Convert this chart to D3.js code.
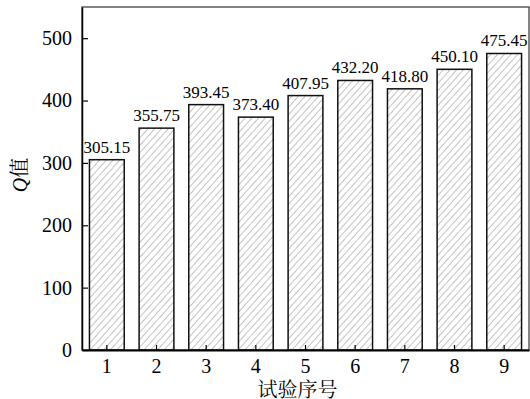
<!DOCTYPE html>
<html>
<head>
<meta charset="utf-8">
<script src="https://cdn.jsdelivr.net/npm/d3@7"></script>
<style>
  body { margin: 0; background: #fff; }
  svg { display: block; }
</style>
</head>
<body>
<div id="chart"></div>
<script>
const trials = ["1", "2", "3", "4", "5", "6", "7", "8", "9"];
const qValues = [305.15, 355.75, 393.45, 373.40, 407.95, 432.20, 418.80, 450.10, 475.45];
const yTicks = [0, 100, 200, 300, 400, 500];

const W = 530, H = 399;
const margin = { top: 7, right: 1, bottom: 49, left: 82 };
const width = W - margin.left - margin.right;
const height = H - margin.top - margin.bottom;

const svg = d3.select("#chart").append("svg")
  .attr("width", W)
  .attr("height", H);

// diagonal hatch fill for the bars
const pat = svg.append("defs").append("pattern")
  .attr("id", "hatch")
  .attr("patternUnits", "userSpaceOnUse")
  .attr("width", 5)
  .attr("height", 5)
  .attr("patternTransform", "rotate(42)");
pat.append("rect").attr("width", 5).attr("height", 5).attr("fill", "#fff");
pat.append("line")
  .attr("x1", 0).attr("y1", 0).attr("x2", 0).attr("y2", 5)
  .attr("stroke", "#7a7a7a")
  .attr("stroke-width", 0.9);

const g = svg.append("g")
  .attr("transform", `translate(${margin.left},${margin.top})`);

const x = d3.scaleBand()
  .domain(trials)
  .range([0, width])
  .paddingInner(0.3)
  .paddingOuter(0.15);

const y = d3.scaleLinear().domain([0, 550]).range([height, 0]);

const serif = "'Liberation Serif', 'Times New Roman', serif";
const cjk = "'Noto Serif CJK SC', 'Noto Sans CJK SC', serif";

g.selectAll(".bar")
  .data(qValues)
  .enter()
  .append("rect")
  .attr("class", "bar")
  .attr("x", (d, i) => x(trials[i]))
  .attr("y", d => y(d))
  .attr("width", x.bandwidth())
  .attr("height", d => height - y(d))
  .attr("fill", "url(#hatch)")
  .attr("stroke", "#111")
  .attr("stroke-width", 1.5);

g.selectAll(".val")
  .data(qValues)
  .enter()
  .append("text")
  .attr("class", "val")
  .attr("x", (d, i) => x(trials[i]) + x.bandwidth() / 2)
  .attr("y", d => y(d) - 7)
  .attr("text-anchor", "middle")
  .style("font-family", serif)
  .style("font-size", "17px")
  .text(d => d.toFixed(2));

// frame
g.append("rect")
  .attr("width", width)
  .attr("height", height)
  .attr("fill", "none")
  .attr("stroke", "#333")
  .attr("stroke-width", 1.2);

const yAxis = g.append("g")
  .call(d3.axisLeft(y).tickValues(yTicks).tickSizeInner(-6).tickSizeOuter(0).tickPadding(10));
yAxis.select(".domain").attr("stroke-width", 1.5);
yAxis.selectAll(".tick line").attr("stroke-width", 1.2);
yAxis.selectAll("text")
  .style("font-family", serif)
  .style("font-size", "20px")
  .attr("fill", "#000");

const xAxis = g.append("g")
  .attr("transform", `translate(0,${height})`)
  .call(d3.axisBottom(x).tickSizeInner(-5).tickSizeOuter(0).tickPadding(9));
xAxis.select(".domain").attr("stroke-width", 2);
xAxis.selectAll(".tick line").attr("stroke-width", 1.2);
xAxis.selectAll("text")
  .style("font-family", serif)
  .style("font-size", "20px")
  .attr("fill", "#000");

// axis titles
svg.append("text")
  .attr("x", margin.left + width / 2 - 8)
  .attr("y", H - 2)
  .attr("text-anchor", "middle")
  .style("font-family", cjk)
  .style("font-size", "20px")
  .text("试验序号");

const yl = svg.append("text")
  .attr("transform", "translate(27,175) rotate(-90)")
  .attr("text-anchor", "middle")
  .style("font-size", "20px");
yl.append("tspan")
  .style("font-family", serif)
  .style("font-style", "italic")
  .text("Q");
yl.append("tspan")
  .style("font-family", cjk)
  .text("值");
</script>
</body>
</html>
